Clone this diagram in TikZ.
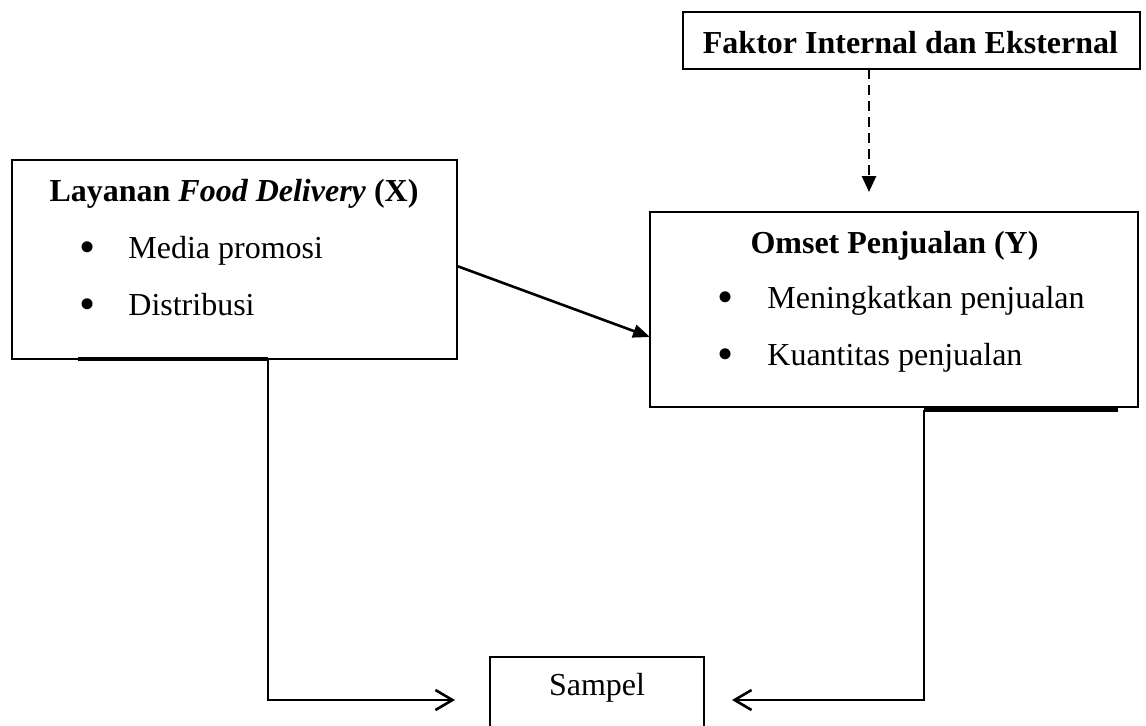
\documentclass[tikz,border=0pt]{standalone}
\usepackage{fontspec}
\setmainfont{Liberation Serif}
\usetikzlibrary{arrows.meta}
\begin{document}
\begin{tikzpicture}[x=0.5pt,y=-0.5pt,
  box/.style={draw,line width=1pt,inner sep=0pt,outer sep=0pt},
  txt/.style={anchor=base,inner sep=0pt,font=\fontsize{16pt}{19pt}\selectfont},
  itm/.style={anchor=base west,inner sep=0pt,font=\fontsize{16pt}{19pt}\selectfont},
  bul/.style={anchor=base west,inner sep=0pt,font=\fontsize{23pt}{24pt}\selectfont},
  conn/.style={line width=1.3pt},
  stray/.style={line width=1.6pt}]
\useasboundingbox (0,0) rectangle (1146,725);
\clip (0,0) rectangle (1146,725);
% boxes
\node[box,minimum width=222.5pt,minimum height=99.5pt] (lay) at (234.5,259.5) {};
\node[box,minimum width=244pt,minimum height=97.5pt] (om) at (894,309.5) {};
\node[box,minimum width=228.5pt,minimum height=28.5pt] (fak) at (911.5,40.5) {};
\node[box,minimum width=107pt,minimum height=43pt] (samp) at (597,700) {};
% texts
\node[txt] (layt) at (234,201) {\textbf{Layanan \textit{Food Delivery} (X)}};
\node[bul] (layb1) at (79,262) {•};
\node[itm] (layi1) at (128,258) {Media promosi};
\node[bul] (layb2) at (79,319) {•};
\node[itm] (layi2) at (128,315) {Distribusi};
\node[txt] (omt) at (894.5,253) {\textbf{Omset Penjualan (Y)}};
\node[bul] (omb1) at (717,312) {•};
\node[itm] (omi1) at (767,308) {Meningkatkan penjualan};
\node[bul] (omb2) at (717,369) {•};
\node[itm] (omi2) at (767,365) {Kuantitas penjualan};
\node[txt] (fakt) at (910.5,53) {\textbf{Faktor Internal dan Eksternal}};
\node[txt] (sampt) at (597,695) {Sampel};
% stray segments under boxes
\coordinate (laydrop) at (268,359);
\coordinate (laystray) at (78,359);
\draw[stray] (laystray) -- (laydrop);
\coordinate (omdrop) at (924,410);
\coordinate (omstray) at (1118,410);
\draw[stray] (omdrop) -- (omstray);
% connectors
\draw[conn,-{Triangle[length=8.5pt,width=6.5pt]}] ([yshift=-3.25pt]lay.east) -- ([yshift=-13.75pt]om.west);
\coordinate (dashx) at (869,0);
\draw[conn,dash pattern=on 5pt off 3pt,-{Triangle[length=8pt,width=7pt]},shorten >=10pt] (fak.south -| dashx) -- (om.north -| dashx);
\draw[conn,-{Straight Barb[length=8.5pt,width=10pt]},shorten >=17.5pt] (laydrop) |- (samp.west);
\draw[conn,-{Straight Barb[length=8.5pt,width=10pt]},shorten >=14pt] (omdrop) |- (samp.east);
\end{tikzpicture}
\end{document}
